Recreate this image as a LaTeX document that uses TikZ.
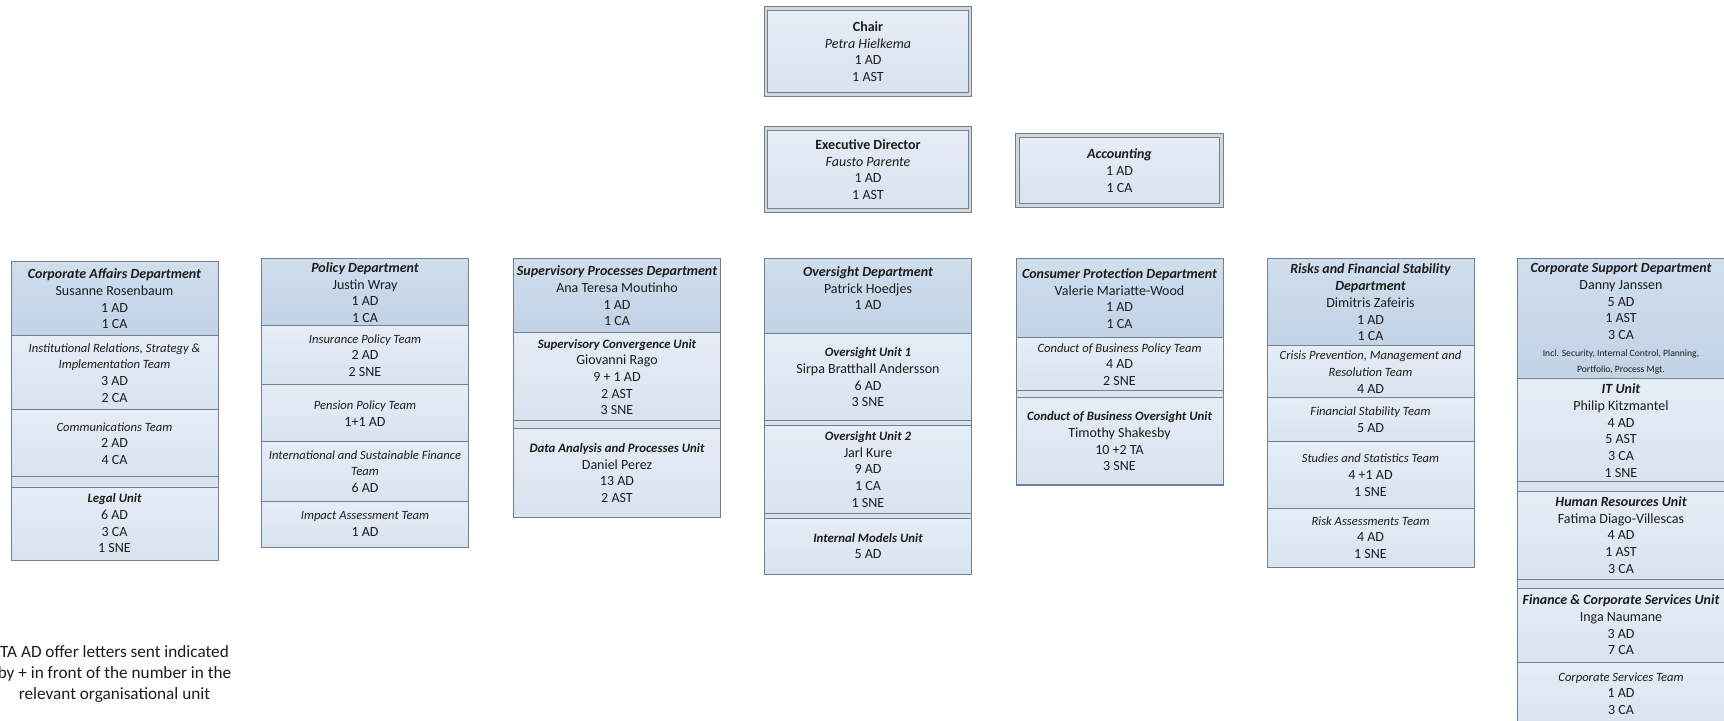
\documentclass[tikz,border=0pt]{standalone}
\usepackage{fontspec}
\setmainfont{Carlito}
\usetikzlibrary{positioning}

\definecolor{framegray}{RGB}{118,128,138}
\definecolor{ringgray}{RGB}{210,215,220}
\definecolor{headtop}{RGB}{208,222,237}
\definecolor{headbot}{RGB}{193,211,230}
\definecolor{celltop}{RGB}{229,237,246}
\definecolor{cellbot}{RGB}{216,227,240}
\definecolor{inkgray}{RGB}{28,28,28}

\newcommand{\deptname}[1]{{\bfseries\itshape #1}}
\newcommand{\unitname}[1]{{\fontsize{6.4}{8.35}\selectfont\bfseries\itshape #1}}
\newcommand{\teamname}[1]{{\fontsize{6.3}{8.35}\selectfont\itshape #1}}
\newcommand{\smallnote}[1]{{\fontsize{4.8}{8.35}\selectfont #1}}

\tikzset{
	cell/.style={draw=framegray, line width=0.5pt, inner sep=0pt, outer sep=0pt,
		minimum width=103.5pt, align=center, text=inkgray,
		font=\fontsize{7}{8.35}\selectfont, top color=celltop, bottom color=cellbot},
	head/.style={cell, top color=headtop, bottom color=headbot},
	band/.style={cell, minimum height=#1, top color=cellbot, bottom color=cellbot},
	band/.default=4pt,
	topbox/.style={cell, draw=framegray, double=ringgray, double distance=1.4pt,
		line width=0.5pt, minimum width=102pt}
}

\begin{document}
\begin{tikzpicture}[x=0.5pt,y=-0.5pt]
	\useasboundingbox (0,0) rectangle (1724,721);
	
	% top of the chart
	\node[topbox, minimum height=43pt] (chair) at (868,51.5)
	{\textbf{Chair}\\\textit{Petra Hielkema}\\1 AD\\1 AST};
	\node[topbox, minimum height=41pt] (exec) at (868,169.5)
	{\textbf{Executive Director}\\\textit{Fausto Parente}\\1 AD\\1 AST};
	\node[topbox, minimum height=35pt] (acc) at (1119.5,170.5)
	{\deptname{Accounting}\\1 AD\\1 CA};
	
	% Corporate Affairs
	\node[head, anchor=north, minimum height=37pt] (caf) at (114.5,262)
	{\deptname{Corporate Affairs Department}\\Susanne Rosenbaum\\1 AD\\1 CA};
	\node[cell, minimum height=37pt, below=0pt of caf] (caf1)
	{\teamname{Institutional Relations, Strategy \&}\\\teamname{Implementation Team}\\3 AD\\2 CA};
	\node[cell, minimum height=33.5pt, below=0pt of caf1] (caf2)
	{\teamname{Communications Team}\\2 AD\\4 CA};
	\node[band=5pt, below=0pt of caf2] (cafb) {};
	\node[cell, minimum height=36.5pt, below=0pt of cafb] (caf3)
	{\unitname{Legal Unit}\\6 AD\\3 CA\\1 SNE};
	
	% Policy
	\node[head, anchor=north, minimum height=33.5pt] (pol) at (365,259)
	{\deptname{Policy Department}\\Justin Wray\\1 AD\\1 CA};
	\node[cell, minimum height=29.5pt, below=0pt of pol] (pol1)
	{\teamname{Insurance Policy Team}\\2 AD\\2 SNE};
	\node[cell, minimum height=28.5pt, below=0pt of pol1] (pol2)
	{\teamname{Pension Policy Team}\\1+1 AD};
	\node[cell, minimum height=29.5pt, below=0pt of pol2] (pol3)
	{\teamname{International and Sustainable Finance}\\\teamname{Team}\\6 AD};
	\node[cell, minimum height=23pt, below=0pt of pol3] (pol4)
	{\teamname{Impact Assessment Team}\\1 AD};
	
	% Supervisory Processes
	\node[head, anchor=north, minimum height=37pt] (sup) at (617,259)
	{\deptname{Supervisory Processes Department}\\Ana Teresa Moutinho\\1 AD\\1 CA};
	\node[cell, minimum height=44pt, below=0pt of sup] (sup1)
	{\unitname{Supervisory Convergence Unit}\\Giovanni Rago\\9 + 1 AD\\2 AST\\3 SNE};
	\node[band, below=0pt of sup1] (supb) {};
	\node[cell, minimum height=44pt, below=0pt of supb] (sup2)
	{\unitname{Data Analysis and Processes Unit}\\Daniel Perez\\13 AD\\2 AST};
	
	% Oversight
	\node[head, anchor=north, minimum height=37.5pt] (ovs) at (868,259)
	{\deptname{Oversight Department}\\Patrick Hoedjes\\1 AD\\\mbox{}};
	\node[cell, minimum height=43.5pt, below=0pt of ovs] (ovs1)
	{\unitname{Oversight Unit 1}\\Sirpa Bratthall Andersson\\6 AD\\3 SNE};
	\node[band=2.5pt, below=0pt of ovs1] (ovsb1) {};
	\node[cell, minimum height=43.5pt, below=0pt of ovsb1] (ovs2)
	{\unitname{Oversight Unit 2}\\Jarl Kure\\9 AD\\1 CA\\1 SNE};
	\node[band=2.5pt, below=0pt of ovs2] (ovsb2) {};
	\node[cell, minimum height=28pt, below=0pt of ovsb2] (ovs3)
	{\unitname{Internal Models Unit}\\5 AD};
	
	% Consumer Protection
	\node[head, anchor=north, minimum height=39.5pt] (con) at (1119.5,259)
	{\deptname{Consumer Protection Department}\\Valerie Mariatte-Wood\\1 AD\\1 CA};
	\node[cell, minimum height=26.5pt, below=0pt of con] (con1)
	{\teamname{Conduct of Business Policy Team}\\4 AD\\2 SNE};
	\node[band=3.5pt, below=0pt of con1] (conb) {};
	\node[cell, minimum height=43.5pt, below=0pt of conb] (con2)
	{\unitname{Conduct of Business Oversight Unit}\\Timothy Shakesby\\10 +2 TA\\3 SNE};
	
	% Risks and Financial Stability
	\node[head, anchor=north, minimum height=43.5pt] (rfs) at (1370.5,259)
	{\deptname{Risks and Financial Stability}\\\deptname{Department}\\Dimitris Zafeiris\\1 AD\\1 CA};
	\node[cell, minimum height=26pt, below=0pt of rfs] (rfs1)
	{\teamname{Crisis Prevention, Management and}\\\teamname{Resolution Team}\\4 AD};
	\node[cell, minimum height=22pt, below=0pt of rfs1] (rfs2)
	{\teamname{Financial Stability Team}\\5 AD};
	\node[cell, minimum height=33pt, below=0pt of rfs2] (rfs3)
	{\teamname{Studies and Statistics Team}\\4 +1 AD\\1 SNE};
	\node[cell, minimum height=29.5pt, below=0pt of rfs3] (rfs4)
	{\teamname{Risk Assessments Team}\\4 AD\\1 SNE};
	
	% Corporate Support
	\node[head, anchor=north, minimum height=60pt] (csd) at (1621,259)
	{\deptname{Corporate Support Department}\\Danny Janssen\\5 AD\\1 AST\\3 CA\\
		\smallnote{Incl. Security, Internal Control, Planning,}\\\smallnote{Portfolio, Process Mgt.}};
	\node[cell, minimum height=51.5pt, below=0pt of csd] (csd1)
	{\deptname{IT Unit}\\Philip Kitzmantel\\4 AD\\5 AST\\3 CA\\1 SNE};
	\node[band=4.5pt, below=0pt of csd1] (csdb1) {};
	\node[cell, minimum height=44pt, below=0pt of csdb1] (csd2)
	{\deptname{Human Resources Unit}\\Fatima Diago-Villescas\\4 AD\\1 AST\\3 CA};
	\node[band=4.5pt, below=0pt of csd2] (csdb2) {};
	\node[cell, minimum height=37pt, below=0pt of csdb2] (csd3)
	{\deptname{Finance \& Corporate Services Unit}\\Inga Naumane\\3 AD\\7 CA};
	\node[cell, minimum height=31.5pt, below=0pt of csd3] (csd4)
	{\teamname{Corporate Services Team}\\1 AD\\3 CA};
	
	% footnote
	\node[align=center, text=inkgray, font=\fontsize{8.6}{10.5}\selectfont] (note) at (114.5,674)
	{TA AD offer letters sent indicated\\by + in front of the number in the\\relevant organisational unit};
	
\end{tikzpicture}
\end{document}
